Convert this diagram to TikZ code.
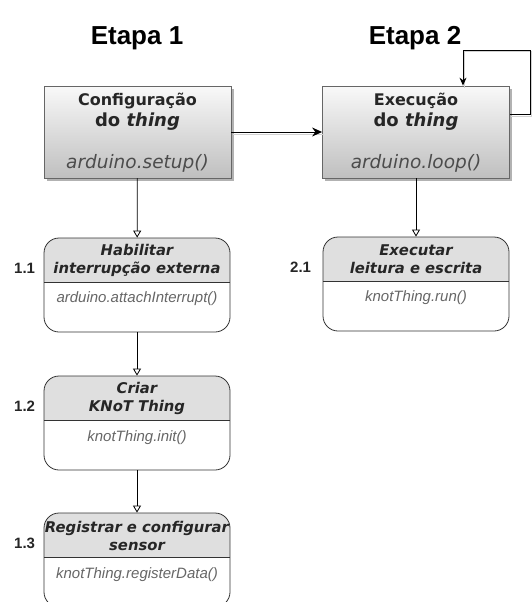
\documentclass[tikz,border=0pt]{standalone}
\usepackage{fontspec}
\setsansfont{Liberation Sans}
\newfontfamily\dejavu{DejaVu Sans}
\usetikzlibrary{arrows.meta,shadows}

\begin{document}
\begin{tikzpicture}[x=1pt,y=-1pt,
  etapa/.style={font=\sffamily\bfseries\fontsize{26}{30}\selectfont, anchor=base},
  mainbox/.style={draw=black!60, line width=0.8pt, top color=gray!5, bottom color=gray!50,
    minimum width=187pt, minimum height=92pt, inner sep=0pt,
    drop shadow={shadow xshift=2.5pt, shadow yshift=-2.5pt, fill=black!30, opacity=1}},
  title/.style={font=\dejavu\bfseries\fontsize{16}{18}\selectfont, text=black!85},
  method/.style={font=\dejavu\itshape\fontsize{18.5}{20}\selectfont, text=black!70},
  stepbox/.style={draw=black!80, line width=0.8pt, rounded corners=15pt,
    minimum width=186pt, minimum height=94pt, inner sep=0pt,
    path picture={
      \fill[gray!25, sharp corners] (path picture bounding box.north west) rectangle ([yshift=-44pt]path picture bounding box.north east);
      \draw[black!80, line width=1pt] ([yshift=-44pt]path picture bounding box.north west) -- ([yshift=-44pt]path picture bounding box.north east);}},
  head/.style={font=\dejavu\bfseries\itshape\fontsize{14.8}{18}\selectfont, align=center, text=black!85},
  call/.style={font=\sffamily\itshape\fontsize{15}{17}\selectfont, text=black!60},
  num/.style={font=\sffamily\bfseries\fontsize{15}{17}\selectfont, text=black!85, anchor=east},
  flow/.style={line width=0.8pt, -{Triangle[open,length=7pt,width=8pt]}},
  shade line/.style={preaction={draw=black!18, line width=1pt, -, transform canvas={xshift=1.5pt,yshift=-2pt}}}
]
\useasboundingbox (0,0) rectangle (532,602);
\clip (0,0) rectangle (532,602);

\node[etapa] (et1) at (137,45) {Etapa 1};
\node[etapa] (et2) at (415,45) {Etapa 2};

% setup() and loop()
\node[mainbox] (conf) at (137.5,132) {};
\node[title] (conft) at ([yshift=-15pt]conf.north) {Configuração};
\node[title, font=\dejavu\bfseries\fontsize{18}{20}\selectfont] at ([yshift=-36pt]conf.north) {do \textit{thing}};
\node[method] at ([yshift=-78pt]conf.north) {arduino.setup()};

\node[mainbox] (exec) at (416,132) {};
\node[title] (exect) at ([yshift=-15pt]exec.north) {Execução};
\node[title, font=\dejavu\bfseries\fontsize{18}{20}\selectfont] at ([yshift=-36pt]exec.north) {do \textit{thing}};
\node[method] at ([yshift=-78pt]exec.north) {arduino.loop()};

\draw[shade line, line width=1pt, -{Stealth[length=10pt,width=9pt]}] (conf) -- (exec);
\coordinate (turn) at (530,50);
\draw[shade line, line width=0.9pt, -{Stealth[length=8pt,width=7pt]}] ([yshift=18pt]exec.east) -| (turn) -| ([xshift=47pt]exec.north);

% steps of Etapa 1
\node[stepbox] (s11) at (137,285) {};
\node[head] at ([yshift=-23pt]s11.north) {Habilitar\\interrupção externa};
\node[call] at ([yshift=-61pt]s11.north) {arduino.attachInterrupt()};
\node[num] at ([xshift=-5pt,yshift=-31pt]s11.north west) {1.1};

\node[stepbox] (s12) at (137,423) {};
\node[head] at ([yshift=-23pt]s12.north) {Criar\\KNoT Thing};
\node[call] at ([yshift=-62pt]s12.north) {knotThing.init()};
\node[num] at ([xshift=-5pt,yshift=-31pt]s12.north west) {1.2};

\node[stepbox] (s13) at (137,560) {};
\node[head] at ([yshift=-23pt]s13.north) {Registrar e configurar\\sensor};
\node[call] at ([yshift=-62pt]s13.north) {knotThing.registerData()};
\node[num] at ([xshift=-5pt,yshift=-31pt]s13.north west) {1.3};

% step of Etapa 2
\node[stepbox] (s21) at (416,284) {};
\node[head] at ([yshift=-23pt]s21.north) {Executar\\leitura e escrita};
\node[call] at ([yshift=-61pt]s21.north) {knotThing.run()};
\node[num] at ([xshift=-8pt,yshift=-31pt]s21.north west) {2.1};

\draw[flow] (conf) -- (s11);
\draw[flow] (s11) -- (s12);
\draw[flow] (s12) -- (s13);
\draw[flow] (exec) -- (s21);
\end{tikzpicture}
\end{document}
